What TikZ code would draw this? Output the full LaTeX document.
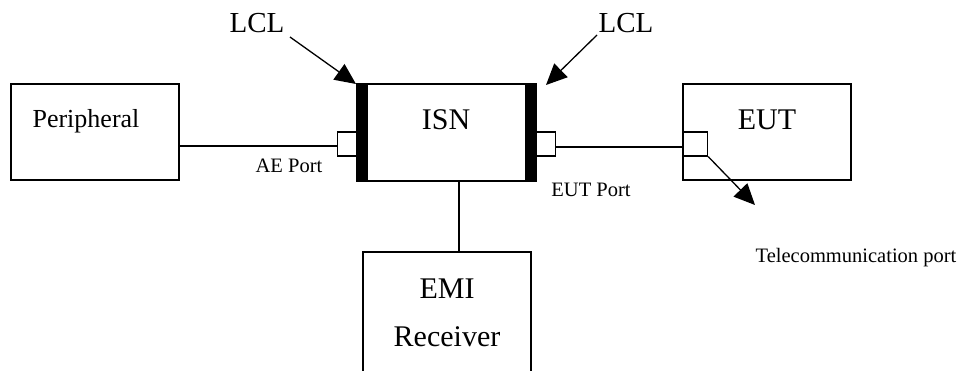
\documentclass[tikz,border=0pt]{standalone}
\usepackage{fontspec}
\setmainfont{Liberation Serif}
\usetikzlibrary{arrows.meta}
\begin{document}
\begin{tikzpicture}[x=1pt,y=-1pt,
  box/.style={draw,line width=1.5pt,inner sep=0pt},
  portbox/.style={draw,line width=1.2pt,inner sep=0pt,minimum width=19pt,minimum height=24pt},
  wire/.style={line width=1.3pt},
  bar/.style={fill=black,draw=none},
  pointer/.style={line width=1.3pt,-{Triangle[length=21pt,width=19pt]}},
  big/.style={font=\fontsize{30}{34}\selectfont},
  small/.style={font=\fontsize{20.5}{24}\selectfont}]
\useasboundingbox (0,0) rectangle (961,370);

% main blocks
\node[box,minimum width=168pt,minimum height=96pt] (per) at (95,132) {};
\node[font=\fontsize{26}{30}\selectfont] (pertxt) at (86,121) {Peripheral};
\node[box,minimum width=179pt,minimum height=97pt] (isn) at (446.5,132.5) {};
\node[big] (isntxt) at (446,120) {ISN};
\node[box,minimum width=168pt,minimum height=96pt] (eut) at (767,132) {};
\node[big] (euttxt) at (767,120) {EUT};

% EMI receiver, open at the lower page edge
\coordinate (emiTL) at (363,252);
\coordinate (emiTR) at (531,252);
\coordinate (emiBL) at (363,372);
\coordinate (emiBR) at (531,372);
\draw[line width=1.5pt] (emiBL) -- (emiTL) -- (emiTR) -- (emiBR);
\coordinate (emiT) at (459,252);
\node[big] (emitxt) at (447,289) {EMI};
\node[big] (rectxt) at (447,337) {Receiver};

% LCL bars on both sides of the ISN
\fill[bar] (357,85) rectangle (368,182);
\fill[bar] (525,85) rectangle (536,182);

% port connectors
\node[portbox,anchor=east] (aeport) at (357,144) {};
\node[portbox,anchor=west] (eutport) at (536,144) {};
\node[portbox,minimum width=24pt,anchor=west] (telport) at (683,144) {};

% cabling
\draw[wire] (per.east |- 0,146) -- (aeport.west |- 0,146);
\draw[wire] (eutport.east |- 0,147) -- (telport.west |- 0,147);
\draw[wire] (isn.south -| emiT) -- (emiT);

% labels
\node[small] (aelbl) at (289,166) {AE Port};
\node[small] (eutlbl) at (591,190) {EUT Port};
\node[small] (tellbl) at (856,258) {Telecommunication port};
\node[font=\fontsize{29}{33}\selectfont] (lcl1) at (257,23) {LCL};
\node[font=\fontsize{29}{33}\selectfont] (lcl2) at (626,23) {LCL};

% pointers
\coordinate (lcl1tip) at (356,84);
\coordinate (lcl2tip) at (546,85);
\coordinate (teltip) at (755,205);
\draw[pointer] (290,37) -- (lcl1tip);
\draw[pointer] (597,35) -- (lcl2tip);
\draw[pointer] (telport.south east) -- (teltip);
\end{tikzpicture}
\end{document}
